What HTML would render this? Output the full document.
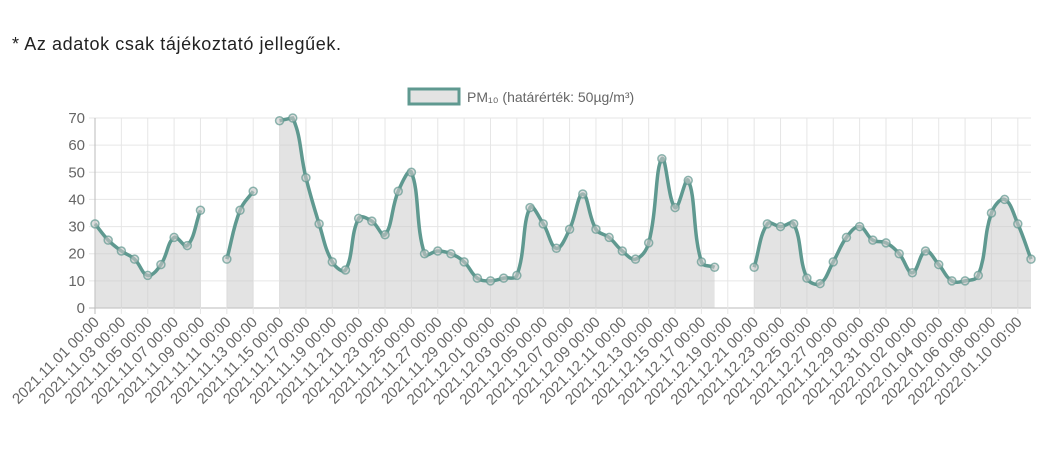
<!DOCTYPE html>
<html><head><meta charset="utf-8"><style>
html,body{margin:0;padding:0;background:#fff;width:1062px;height:456px;overflow:hidden}
.note{position:absolute;left:12px;top:34px;font:18px "Liberation Sans",sans-serif;letter-spacing:0.6px;color:#222}
svg{position:absolute;left:0;top:0}
text{font-family:"Liberation Sans",sans-serif;fill:#666}
</style></head><body>
<div class="note">* Az adatok csak tájékoztató jellegűek.</div>
<svg id="chart" width="1062" height="456"></svg>
<script>
const startDate = [2021, 11, 1];
const dayCount = 72;
const pm10Values = [31,25,21,18,12,16,26,23,36,null,18,36,43,null,69,70,48,31,17,14,33,32,27,43,50,20,21,20,17,11,10,11,12,37,31,22,29,42,29,26,21,18,24,55,37,47,17,15,null,null,15,31,30,31,11,9,17,26,30,25,24,20,13,21,16,10,10,12,35,40,31,18];
const yTicks = [0,10,20,30,40,50,60,70];
const legendLabel = "PM₁₀ (határérték: 50µg/m³)";

const NS="http://www.w3.org/2000/svg";
const svg=document.getElementById('chart');
const X0=95,X1=1031,Y0=308,Y1=118,YMAX=70;
const n=pm10Values.length;
const xs=i=>X0+(X1-X0)*i/(n-1);
const ys=v=>Y0-(Y0-Y1)*v/YMAX;
function mk(tag,attrs,parent){const e=document.createElementNS(NS,tag);for(const k in attrs)e.setAttribute(k,attrs[k]);(parent||svg).appendChild(e);return e;}
function pad(x){return x<10?'0'+x:''+x;}
const labels=[];
{const d=new Date(startDate[0],startDate[1]-1,startDate[2]);for(let i=0;i<n;i++){const t=new Date(d.getTime());t.setDate(d.getDate()+i);labels.push(t.getFullYear()+'.'+pad(t.getMonth()+1)+'.'+pad(t.getDate())+' 00:00');}}

const grid=mk('g',{});


yTicks.forEach(v=>{
  const l=mk('line',{x1:X0-6,x2:X1,y1:ys(v),y2:ys(v),stroke:v===0?'#bbb':'#e6e6e6','stroke-width':1},grid);
  
  
  const t=mk('text',{x:X0-10,y:ys(v)+5,'text-anchor':'end','font-size':15});
  t.textContent=v;
  
  
});
for(let i=0;i<n;i+=2){
  const l=mk('line',{x1:xs(i),x2:xs(i),y1:Y1,y2:Y0+6,stroke:i===0?'#bbb':'#e6e6e6','stroke-width':1},grid);
  
  
  const x=xs(i),y=Y0+15;
  const t=mk('text',{x:x+5,y:y,'text-anchor':'end','font-size':15,transform:`rotate(-45 ${x+5} ${y})`});
  t.textContent=labels[i];
  
  
}

const segs=[];let cur=[];
pm10Values.forEach((v,i)=>{if(v==null){if(cur.length)segs.push(cur);cur=[];}else cur.push({x:xs(i),y:ys(v)});});
if(cur.length)segs.push(cur);
function pathFor(pts){
  let d=`M${pts[0].x},${pts[0].y}`;
  const T=0.4;
  const cp=pts.map((p,i)=>{
    const prev=pts[i-1]||p,next=pts[i+1]||p;
    const d01=Math.hypot(p.x-prev.x,p.y-prev.y),d12=Math.hypot(next.x-p.x,next.y-p.y);
    let fa=d01/(d01+d12)||0,fb=d12/(d01+d12)||0;
    fa*=T;fb*=T;
    return {px:p.x-fa*(next.x-prev.x),py:p.y-fa*(next.y-prev.y),nx:p.x+fb*(next.x-prev.x),ny:p.y+fb*(next.y-prev.y)};
  });
  for(let i=1;i<pts.length;i++){
    let c1y=Math.min(Math.max(cp[i-1].ny,Y1),Y0),c2y=Math.min(Math.max(cp[i].py,Y1),Y0);
    d+=` C${cp[i-1].nx},${c1y} ${cp[i].px},${c2y} ${pts[i].x},${pts[i].y}`;
  }
  return d;
}
segs.forEach(pts=>{
  const d=pathFor(pts);
  const a=mk('path',{d:d+` L${pts[pts.length-1].x},${Y0} L${pts[0].x},${Y0} Z`,fill:'rgba(200,200,200,0.5)',stroke:'none'});
  
  
});
segs.forEach(pts=>{
  const l=mk('path',{d:pathFor(pts),fill:'none',stroke:'#5f9990','stroke-width':3.5});
  
  
  pts.forEach(p=>{
    const c=mk('circle',{cx:p.x,cy:p.y,r:4,fill:'rgba(200,200,200,0.6)',stroke:'rgba(95,153,144,0.7)','stroke-width':1.5});
    
    
  });
});

const lg=mk('g',{});


mk('rect',{x:409,y:89,width:50,height:15,fill:'#e3e3e3',stroke:'#5f9990','stroke-width':3},lg);
const lt=mk('text',{x:467,y:102,'font-size':14},lg);
lt.textContent=legendLabel;


</script>
</body></html>
